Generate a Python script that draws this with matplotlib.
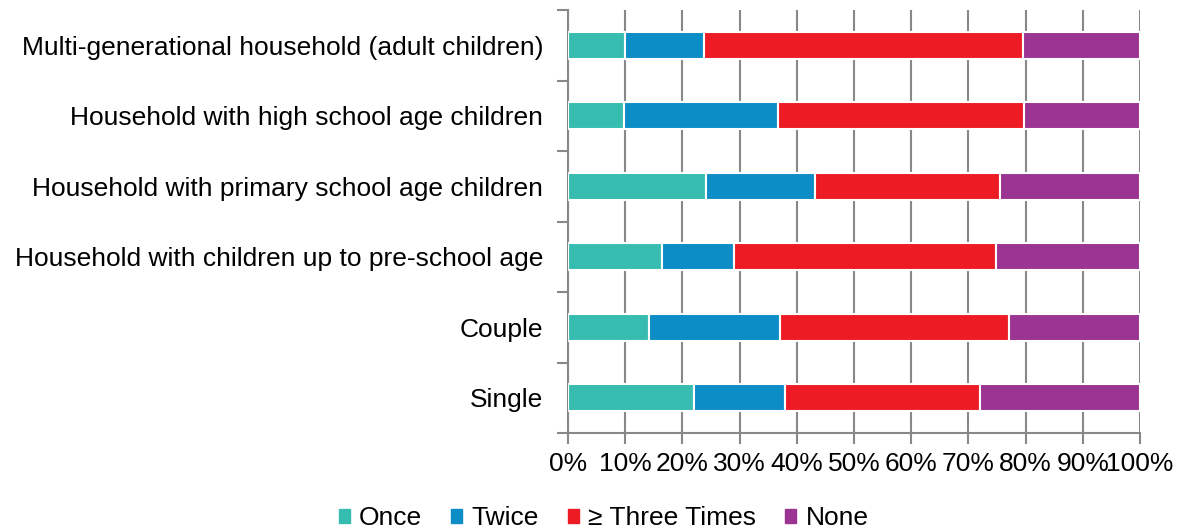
import numpy as np
import matplotlib.pyplot as plt
from matplotlib.patches import Patch

plt.rcParams['font.family'] = ['Liberation Sans', 'DejaVu Sans']

# Kategorien (von unten nach oben) und Anteile in %
categories = ['Single', 'Couple', 'Household with children up to pre-school age',
              'Household with primary school age children',
              'Household with high school age children',
              'Multi-generational household (adult children)']
once = [22.0, 14.1, 16.5, 24.2, 9.8, 10.0]
twice = [15.9, 22.9, 12.6, 19.0, 26.9, 13.7]
three = [34.1, 40.1, 45.8, 32.4, 43.1, 55.8]
none = [28.0, 22.9, 25.1, 24.4, 20.2, 20.5]

series = ['Once', 'Twice', '\u2265 Three Times', 'None']
colors = ['#37BDB0', '#0C8DC6', '#ED1C24', '#9B3493']
fs = 19

fig = plt.figure(figsize=(11.82, 5.30), dpi=100)
ax = fig.add_axes([568/1182, 1 - 433/530, 572/1182, 423/530])

y = np.arange(len(categories))
left = np.zeros(len(categories))
for vals, c in zip([once, twice, three, none], colors):
    ax.barh(y, vals, left=left, height=0.38, color=c, edgecolor='white',
            linewidth=1.5, zorder=3)
    left += np.array(vals)

ax.set_xlim(0, 100)
ax.set_ylim(-0.5, len(categories) - 0.5)
ax.set_xticks(np.arange(0, 101, 10))
ax.set_xticklabels([f'{v}%' for v in range(0, 101, 10)])
ax.set_yticks(y)
ax.set_yticklabels(categories)
ax.set_yticks(np.arange(-0.5, len(categories)), minor=True)

ax.grid(axis='x', color='#888888', linewidth=1.5, zorder=0)
for s in ['top', 'right']:
    ax.spines[s].set_visible(False)
for s in ['left', 'bottom']:
    ax.spines[s].set_color('#888888')
    ax.spines[s].set_linewidth(1.5)

ax.tick_params(axis='y', which='major', length=0, pad=18, labelsize=fs)
ax.tick_params(axis='y', which='minor', length=8, width=1.5, color='#888888')
ax.tick_params(axis='x', length=8, width=1.5, color='#888888', labelsize=fs, pad=6)

handles = [Patch(color=c, label=s) for s, c in zip(series, colors)]
fig.legend(handles=handles, loc='lower center', bbox_to_anchor=(0.5106, -0.045), ncol=4,
           frameon=False, fontsize=fs, handlelength=0.42, handleheight=0.42,
           handletextpad=0.35, columnspacing=1.1)

fig.savefig('out.png', dpi=100)
